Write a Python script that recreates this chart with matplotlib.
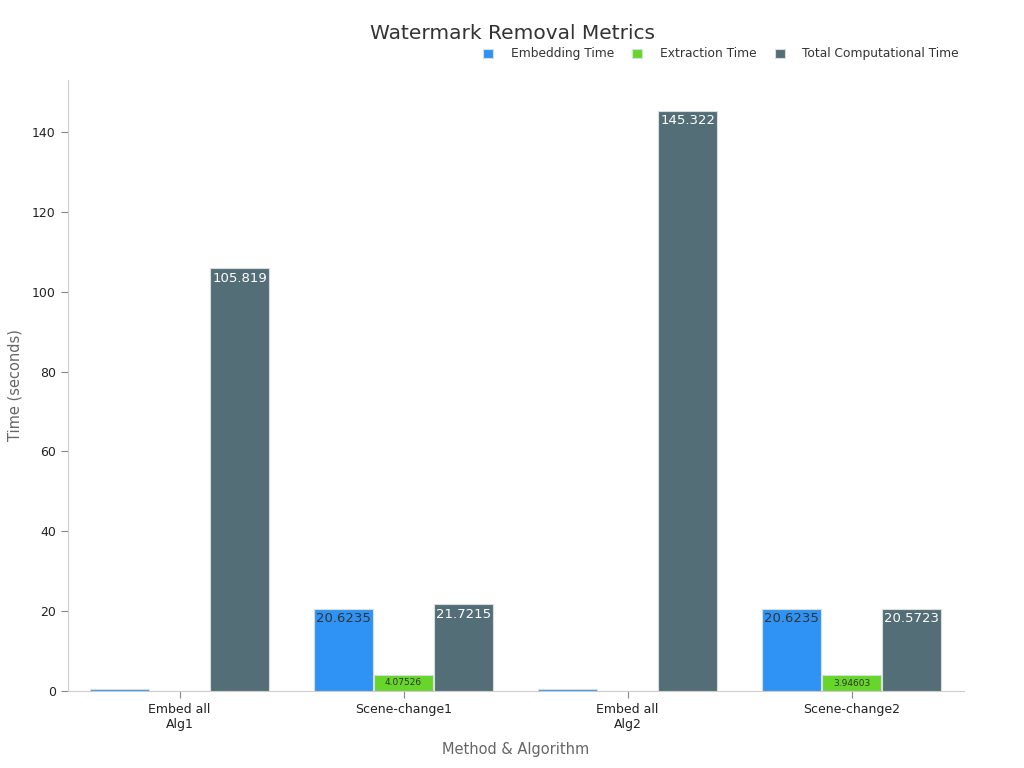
import numpy as np
import matplotlib.pyplot as plt

categories = ['Embed all\nAlg1', 'Scene-change1', 'Embed all\nAlg2', 'Scene-change2']
series_names = ['Embedding Time', 'Extraction Time', 'Total Computational Time']
embedding = [0.55, 20.6235, 0.5, 20.6235]
extraction = [0.03, 4.07526, 0.03, 3.94603]
total = [105.819, 21.7215, 145.322, 20.5723]

colors = ['#2e93f5', '#66d62a', '#546e78']
label_colors = ['#333333', '#333333', 'white']
label_sizes = [9.5, 6.5, 9.5]

fig = plt.figure(figsize=(10.24, 7.68), dpi=100)
ax = fig.add_axes([0.066, 0.1, 0.875, 0.796])

x = np.arange(len(categories))
width = 0.265
values = [embedding, extraction, total]
for i, (name, vals) in enumerate(zip(series_names, values)):
    pos = x + (i - 1) * 0.268
    bars = ax.bar(pos, vals, width, color=colors[i], label=name,
                  edgecolor='#d8dde0', linewidth=0.8)
    for b, v in zip(bars, vals):
        if v < 1:
            continue
        ax.text(b.get_x() + b.get_width() / 2, v - 0.8, f'{v:g}',
                ha='center', va='top', color=label_colors[i],
                fontsize=label_sizes[i])

ax.set_xlim(-0.5, 3.5)
ax.set_ylim(0, 153)
ax.set_yticks(range(0, 141, 20))
ax.set_xticks(x)
ax.set_xticklabels(categories, fontsize=9, color='#222222')
ax.tick_params(axis='y', labelsize=9, colors='#222222', length=5, color='#888888')
ax.tick_params(axis='x', length=5, color='#888888')
for s in ['top', 'right']:
    ax.spines[s].set_visible(False)
for s in ['left', 'bottom']:
    ax.spines[s].set_color('#cccccc')

ax.set_xlabel('Method & Algorithm', fontsize=10.5, color='#666666', labelpad=8)
ax.set_ylabel('Time (seconds)', fontsize=10.5, color='#666666', labelpad=7)
fig.text(0.5, 0.957, 'Watermark Removal Metrics', ha='center', va='center',
         fontsize=14.5, color='#333333')
leg = ax.legend(loc='upper right', bbox_to_anchor=(1.007, 1.071), ncol=3, frameon=False,
                fontsize=8.8, handlelength=0.8, handleheight=0.8, columnspacing=1.5,
                handletextpad=1.45)
for t in leg.get_texts():
    t.set_color('#333333')

plt.savefig('out.png', dpi=100)
